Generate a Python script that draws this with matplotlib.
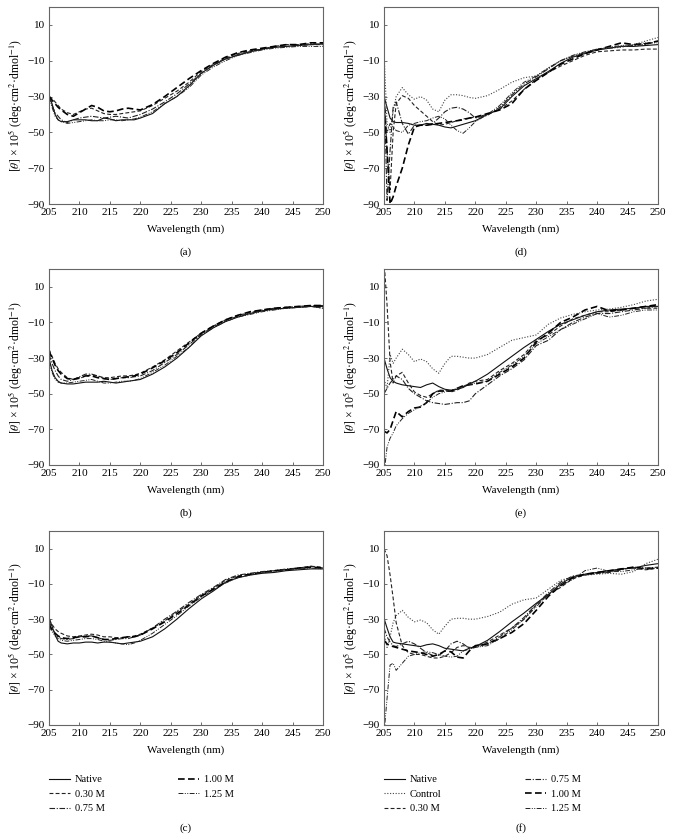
import matplotlib.pyplot as plt

plt.rcParams["font.family"] = ["Liberation Serif", "DejaVu Serif"]
plt.rcParams["mathtext.fontset"] = "stix"

# wavelength grid (nm) shared by every curve
wavelength = [205, 205.5, 206, 206.5, 207, 208, 209, 210, 211, 212, 213, 214,
              215, 216, 217, 218, 219, 220, 222, 224, 226, 228, 230, 232, 234,
              236, 238, 240, 242, 244, 246, 248, 250]

y_ticks = [10, -10, -30, -50, -70, -90]

# ---- panel (a)
a_native = [-29, -34, -40, -43, -44, -44, -43, -43, -43, -43.5, -43.5, -42, -42.5, -43.5, -43, -43, -43, -42,
            -39.5, -34, -30, -24, -17, -12.5, -9, -7, -5, -3.5, -2.5, -2, -1.5, -1, -0.5]
a_030 = [-30, -31, -33, -35, -37, -39, -40, -38.5, -37, -36.5, -38, -39.5, -40, -40, -39.5, -39, -38.5, -38,
         -35, -31, -27, -22, -16, -12, -8.5, -6, -4.5, -3.5, -2.5, -2, -1.5, -1, -1]
a_075 = [-30, -35, -39, -41, -43, -44.5, -43, -42, -41.5, -41, -41.5, -42, -41.5, -41, -41.5, -42, -41, -40,
         -37, -33, -28.5, -23, -17, -12.5, -9, -6.5, -5, -3.5, -2, -1, -1, -0.5, -1]
a_100 = [-30, -32, -34, -36, -37.5, -40, -41, -39, -37, -35, -36, -38, -38.5, -38, -37, -36.5, -37, -37.5,
         -34.5, -30, -25, -20, -15.5, -11.5, -8, -5.5, -4, -3, -2, -1, -1, 0, 0]
a_125 = [-30, -36, -41, -43, -44, -45, -44.5, -44, -43.5, -43, -43.5, -43.5, -43, -43, -43.5, -43, -42.5, -41.5,
         -38.5, -34, -30, -25, -18, -13.5, -10, -7, -5.5, -4, -3, -2.5, -2, -2, -2]

# ---- panel (b)
b_native = [-30, -37, -41, -43, -44, -44.5, -44.5, -44, -43.5, -43.5, -43.5, -43, -43.5, -44, -43.5, -43, -42.5, -42,
            -39, -35, -30, -24, -17.5, -13, -9.5, -7, -5, -3.5, -2.5, -2, -1.5, -1, -1]
b_030 = [-25, -29, -33, -36, -38, -41, -42, -41.5, -40, -39.5, -40, -41, -41, -40.5, -40, -40, -39.5, -38.5,
         -35, -31, -26, -21, -16, -12, -8.5, -6, -4.5, -3, -2, -1.5, -1, -0.5, -0.5]
b_075 = [-28, -33, -37, -40, -42, -43, -42, -40.5, -39, -39, -40, -41.5, -42, -41.5, -41, -41, -40.5, -40,
         -37, -32.5, -28, -22.5, -16.5, -12.5, -9, -6.5, -5, -3.5, -2.5, -2, -1.5, -1, -2]
b_100 = [-26, -30, -34, -37, -39, -41.5, -42, -41, -40, -40, -41, -41.5, -42, -41.5, -41, -40.5, -40, -39,
         -35.5, -31.5, -27, -21.5, -16, -12, -8.5, -6, -4, -3, -2, -1.5, -1, -0.5, -0.5]
b_125 = [-32, -38, -42, -43.5, -44, -44, -43.5, -43, -42.5, -42, -43, -44, -44, -43.5, -43, -43, -42.5, -41.5,
         -38, -34, -29, -24, -17, -13, -9.5, -7, -5.5, -4, -3, -2, -1.5, -1, -2]

# ---- panel (c)
c_native = [-29, -34, -39, -42.5, -43.5, -44, -43.5, -43.5, -43, -43, -43.5, -43, -43, -43.5, -44, -43.5, -43, -42.5,
            -40, -35.5, -30, -24, -18.5, -14, -9, -6.5, -5, -4, -3.5, -2.5, -2, -1.5, -1.5]
c_030 = [-30, -33, -35.5, -37, -38, -39.5, -40, -39.5, -39, -38.5, -39, -40, -40, -40.5, -40.5, -40, -39.5, -38.5,
         -35, -31, -26, -21.5, -16.5, -12.5, -8, -5.5, -4.5, -3.5, -2.5, -2, -1, 0, -0.5]
c_075 = [-31, -35, -38, -40, -41, -41.5, -41, -40, -39.5, -39.5, -40.5, -41.5, -42, -41.5, -41, -41, -40, -39,
         -35, -30, -25.5, -20.5, -16, -12, -7.5, -5, -4, -3, -2.5, -1.5, -1, 0, -1]
c_100 = [-33, -36, -38, -39.5, -40.5, -41, -40.5, -40, -40, -39.5, -40.5, -41.5, -41.5, -41, -40.5, -40, -40, -39,
         -35.5, -31.5, -27, -22, -17, -13, -9, -6, -4.5, -3.5, -2.5, -2, -1, -0.5, -1]
c_125 = [-34, -37, -39.5, -41, -42, -42.5, -42, -41.5, -41, -41, -41.5, -42.5, -43, -43.5, -44, -44.5, -43.5, -42,
         -38, -33, -28, -22.5, -17.5, -13.5, -9.5, -6.5, -5, -3.5, -3, -2, -1.5, -1, -1.5]

# ---- panel (d)
d_native = [-30, -36, -42, -44, -44.5, -44.5, -45, -46, -46, -45, -45.5, -46, -47, -47.5, -46.5, -45.5, -44.5, -43.5,
            -40, -37, -30, -24, -20, -16, -11.5, -8, -6, -4, -3, -2, -2, -1.5, -1]
d_control = [-5, -45, -50, -38, -30, -25, -29, -31.5, -30, -32, -37, -38.5, -32, -29, -29, -29.5, -30.5, -31,
             -29.5, -26, -22, -19.5, -18.5, -14, -10, -7.5, -5.5, -4, -3, -2.5, -1, 1, 3]
d_030 = [-30, -60, -82, -50, -34, -29.5, -31, -35, -38, -41, -44, -46, -45.5, -44.5, -43.5, -42.5, -42, -41.5,
         -40, -37, -32.5, -26, -20.5, -16.5, -13, -10, -7, -5, -4.5, -4, -4, -3.5, -3.5]
d_075 = [-20, -88, -60, -36, -33, -45, -51, -46, -46, -46, -45, -42, -38.5, -36.5, -36, -37, -39, -42,
         -40.5, -36, -29, -23, -19, -14.5, -10, -7.5, -5.5, -3.5, -3, -2, -1.5, -1, 1]
d_100 = [-30, -60, -90, -86, -80, -70, -57, -47, -46, -46, -45.5, -45, -44.5, -44, -43.5, -43, -42, -41.5,
         -39.5, -37.5, -34, -26, -21, -16.5, -12, -9, -6, -4, -2, 0, -1, -0.5, 1]
d_125 = [-35, -50, -45, -47, -49, -50, -46, -45, -44, -43.5, -42, -41, -42.5, -46, -49, -50.5, -47.5, -44,
         -40, -35, -28, -22, -18.5, -14, -10, -7, -5, -3.5, -2.5, -1.5, -1, 0, 0]

# ---- panel (e)
e_native = [-30, -36, -41, -43, -44, -45, -45.5, -46, -46.5, -45, -44, -46, -47.5, -48, -47.5, -46.5, -44.5, -43,
            -39, -34, -29, -24, -19.5, -15, -11, -8.5, -6, -4, -3, -2.5, -2, -1, -1]
e_control = [-42, -47, -28, -33, -30, -25, -28, -32, -30.5, -32, -36, -38.5, -33, -29, -29, -29.5, -30, -30,
             -28, -24, -20, -18.5, -17, -11, -7.5, -5.5, -4, -3, -2.5, -1.5, 0, 2, 3]
e_030 = [25, 0, -32, -44, -40, -38, -44, -49, -51, -52, -50, -48, -48, -49, -48, -46, -44, -43,
         -42, -37, -33, -28, -20, -17, -12, -8, -6, -4, -4, -3, -2, -2, -2]
e_075 = [-50, -47, -44, -42, -40, -42, -47, -50, -52, -54, -55, -55.5, -56, -55.5, -55, -55, -54, -50,
         -45, -40, -36, -31, -23, -20, -14, -10, -7, -5, -5, -4, -3, -2, -1]
e_100 = [-71, -72, -70, -65, -60, -63, -60, -58, -57.5, -55, -50, -48.5, -48.5, -48.5, -47, -45.5, -45, -44.5,
         -43, -39, -35, -30, -21, -16, -10, -7, -3, -1, -3.5, -3, -2, -1, 0]
e_125 = [-95, -80, -75, -72, -68, -64, -61, -59, -57, -55, -52, -50, -49, -48, -47, -46, -45, -44,
         -43, -38, -34, -29, -22, -18, -14, -11, -8, -5, -7, -6, -4, -3, -3]

# ---- panel (f)
f_native = [-29.5, -35, -40, -43, -43.5, -44, -44.5, -45, -45.5, -44.5, -44, -45, -46.5, -47, -47.5, -48, -46.5, -45.5,
            -42, -37, -31.5, -26.5, -21, -16, -10, -6, -4.5, -3.5, -2.5, -1.5, -1, 0.5, 1.5]
f_control = [-38, -46, -40, -32, -28, -25, -29, -31.5, -30.5, -32, -36, -38.5, -34, -30, -29.5, -29.5, -30, -30,
             -28.5, -26, -21.5, -19, -18, -13, -8, -6, -5, -4.5, -4, -4.5, -3, 1.5, 4]
f_030 = [10, 6, -5, -18, -32, -45, -49, -50, -50, -51, -52, -52, -51, -49, -46, -45, -46, -45.5,
         -43, -39, -35, -30, -22, -16, -12, -7, -5, -4, -3, -1.5, -1, -2, -1]
f_075 = [-35, -40, -43, -45, -45.5, -44, -42.5, -44, -46.5, -49, -50.5, -50.5, -48, -44, -42.5, -44, -46.5, -46,
         -44, -40, -35, -29, -21.5, -15, -9, -5.5, -4.5, -4, -3.5, -2, -0.5, -1, -0.5]
f_100 = [-42, -44, -45, -45.5, -46, -47, -48, -48.5, -49, -50, -51, -50, -48, -48.5, -51.5, -52, -48, -45,
         -44, -41, -37.5, -32.5, -25, -17, -11, -6.5, -4.5, -3.5, -2.5, -1.5, -0.5, -1.5, -1]
f_125 = [-95, -75, -56, -55, -59, -55, -51, -50, -49, -48.5, -49, -50, -51, -51.5, -51, -48, -47, -46,
         -45, -41, -36, -30, -23, -16, -11, -7.5, -2.5, -1, -3, -3, -2, -1, -1]

styles = {
    "Native": dict(color="#111111", lw=0.8, ls="-"),
    "Control": dict(color="#444444", lw=0.8, ls=(0, (1, 1.5))),
    "0.30 M": dict(color="#222222", lw=0.8, ls=(0, (3.5, 2))),
    "0.75 M": dict(color="#222222", lw=0.8, ls=(0, (5, 1.5, 1, 1.5))),
    "1.00 M": dict(color="#000000", lw=1.2, ls=(0, (4, 2))),
    "1.25 M": dict(color="#222222", lw=0.7, ls=(0, (5, 1.5, 1, 1.5, 1, 1.5))),
}

ylabel = r"$[\theta]$ × 10$^5$ (deg·cm$^2$·dmol$^{-1}$)"


def draw_panel(ax, series, tag, tag_offset):
    for label, values in series:
        ax.plot(wavelength, values, label=label, **styles[label])
    ax.set_xlim(205, 250)
    ax.set_ylim(-90, 20)
    ax.set_xticks(range(205, 251, 5))
    ax.set_yticks(y_ticks)
    ax.tick_params(direction="in", length=2.5, width=0.6, color="#555555",
                   labelsize=8, pad=3)
    for sp in ax.spines.values():
        sp.set_color("#666666")
        sp.set_linewidth(0.8)
    ax.set_xlabel("Wavelength (nm)", fontsize=8, labelpad=5)
    ax.set_ylabel(ylabel, fontsize=8.5)
    ax.yaxis.set_label_coords(-0.09, 0.5)
    ax.annotate("(%s)" % tag, xy=(0.5, 0), xycoords="axes fraction",
                xytext=(0, tag_offset), textcoords="offset points",
                ha="center", va="center", fontsize=8)


fig = plt.figure(figsize=(6.73, 8.39), dpi=100)
W, H = 673.0, 839.0
col_left = [49, 384]
rows = [(7, 204), (269, 465), (531, 725)]
tag_offsets = [-35, -35, -74]


def make_ax(col, row):
    top, bottom = rows[row]
    return fig.add_axes([col_left[col] / W, 1 - bottom / H, 274 / W, (bottom - top) / H])


left_panels = [
    ("a", [("Native", a_native), ("0.30 M", a_030), ("0.75 M", a_075), ("1.00 M", a_100), ("1.25 M", a_125)]),
    ("b", [("Native", b_native), ("0.30 M", b_030), ("0.75 M", b_075), ("1.00 M", b_100), ("1.25 M", b_125)]),
    ("c", [("Native", c_native), ("0.30 M", c_030), ("0.75 M", c_075), ("1.00 M", c_100), ("1.25 M", c_125)]),
]
right_panels = [
    ("d", [("Native", d_native), ("Control", d_control), ("0.30 M", d_030), ("0.75 M", d_075),
           ("1.00 M", d_100), ("1.25 M", d_125)]),
    ("e", [("Native", e_native), ("Control", e_control), ("0.30 M", e_030), ("0.75 M", e_075),
           ("1.00 M", e_100), ("1.25 M", e_125)]),
    ("f", [("Native", f_native), ("Control", f_control), ("0.30 M", f_030), ("0.75 M", f_075),
           ("1.00 M", f_100), ("1.25 M", f_125)]),
]

for i, (tag, series) in enumerate(left_panels):
    ax_l = make_ax(0, i)
    draw_panel(ax_l, series, tag, tag_offsets[i])
for i, (tag, series) in enumerate(right_panels):
    ax_r = make_ax(1, i)
    draw_panel(ax_r, series, tag, tag_offsets[i])

# legends below the bottom row
h, l = ax_l.get_legend_handles_labels()
fig.legend(h, l, loc="upper left", bbox_to_anchor=(49 / W, 1 - 775 / H), ncol=2,
           frameon=False, fontsize=7.5, handlelength=2.0, handletextpad=0.5,
           columnspacing=7.0, labelspacing=0.5, borderpad=0, borderaxespad=0)
h, l = ax_r.get_legend_handles_labels()
fig.legend(h, l, loc="upper left", bbox_to_anchor=(384 / W, 1 - 775 / H), ncol=2,
           frameon=False, fontsize=7.5, handlelength=2.0, handletextpad=0.5,
           columnspacing=8.0, labelspacing=0.5, borderpad=0, borderaxespad=0)

fig.savefig("out.png", dpi=100)
